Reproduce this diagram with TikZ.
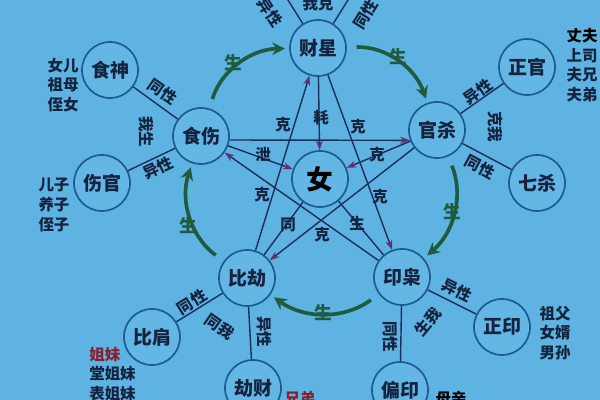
\documentclass[tikz,border=0pt]{standalone}
\usepackage{fontspec}
\newfontfamily\cjk{Noto Sans CJK SC}
\usetikzlibrary{arrows.meta}
\definecolor{bgblue}{HTML}{5EB3E2}
\definecolor{fillblue}{HTML}{64B7E4}
\definecolor{ringblue}{HTML}{1C5A92}
\definecolor{inkblue}{HTML}{15233F}
\definecolor{lineblue}{HTML}{1E2E5C}
\definecolor{tippurple}{HTML}{6A2E6E}
\definecolor{shenggreen}{HTML}{1F5B3E}
\definecolor{kinred}{HTML}{8B1E2E}
\begin{document}
\begin{tikzpicture}[x=0.025cm, y=0.025cm,
		ring/.style={circle, draw=ringblue, line width=1.2pt, fill=fillblue, minimum size=1.4cm, inner sep=0pt, text=inkblue, font={\cjk\bfseries\fontsize{13.5}{15}\selectfont}},
		branch/.style={draw=lineblue, line width=1pt},
		kearrow/.style={draw=lineblue, line width=1pt, -{Stealth[length=7pt, width=5pt, color=tippurple]}},
		shengarrow/.style={draw=shenggreen, line width=2.6pt, shorten <=7pt, shorten >=3pt, -{Stealth[length=9pt, width=9pt]}},
		rel/.style={text=inkblue, font={\cjk\bfseries\fontsize{11}{12}\selectfont}, inner sep=0pt},
		sheng/.style={text=shenggreen, font={\cjk\bfseries\fontsize{12.5}{13}\selectfont}, inner sep=0pt},
		kin/.style={text=inkblue, align=center, inner sep=0pt, font={\cjk\bfseries\fontsize{11}{14}\selectfont}}]
	\useasboundingbox	(0, 0) rectangle (600, 400);
	\fill[bgblue]	(0, 0) rectangle (600, 400);
	\clip	(0, 0) rectangle (600, 400);

	\node[ring] (caixing)	at (318, 352) {财星};
	\node[ring] (guansha)	at (437, 270) {官杀};
	\node[ring] (yinxiao)	at (402, 123) {印枭};
	\node[ring] (bijie)	at (247, 122) {比劫};
	\node[ring] (shishang)	at (201, 264) {食伤};
	\node[ring, text=black, font={\cjk\bfseries\fontsize{19}{20}\selectfont}] (nv)	at (320, 221) {女};

	\node[ring] (shishen)	at (110, 330) {食神};
	\node[ring] (shangguan)	at (102, 217) {伤官};
	\node[ring] (zhengguan)	at (527, 333) {正官};
	\node[ring] (qisha)	at (537, 217) {七杀};
	\node[ring] (zhengyin)	at (502, 73) {正印};
	\node[ring] (pianyin)	at (400, 10) {偏印};
	\node[ring] (jiecai)	at (253, 12) {劫财};
	\node[ring] (bijian)	at (152, 63) {比肩};

	\coordinate (caitopl)	at (283, 408);
	\coordinate (caitopr)	at (353, 408);

	\draw[branch]	(caixing) -- (caitopl);
	\draw[branch]	(caixing) -- (caitopr);
	\draw[branch]	(shishang) -- (shishen);
	\draw[branch]	(shishang) -- (shangguan);
	\draw[branch]	(guansha) -- (zhengguan);
	\draw[branch]	(guansha) -- (qisha);
	\draw[branch]	(yinxiao) -- (zhengyin);
	\draw[branch]	(yinxiao) -- (pianyin);
	\draw[branch]	(bijie) -- (bijian);
	\draw[branch]	(bijie) -- (jiecai);

	\draw[kearrow]	(shishang.-8) -- (guansha.201);
	\draw[kearrow]	(bijie) -- (caixing);
	\draw[kearrow]	(caixing) -- (yinxiao);
	\draw[kearrow]	(guansha) -- (bijie);
	\draw[kearrow]	(yinxiao) -- (shishang);
	\draw[kearrow]	(caixing) -- (nv);
	\draw[kearrow]	(shishang) -- (nv);
	\draw[kearrow]	(guansha) -- (nv);
	\draw[branch]	(bijie) -- (nv);
	\draw[branch]	(yinxiao) -- (nv);

	\draw[shengarrow]	(shishang) to[bend left=36] (caixing);
	\draw[shengarrow]	(caixing) to[bend left=36] (guansha);
	\draw[shengarrow]	(guansha) to[bend left=36] (yinxiao);
	\draw[shengarrow]	(yinxiao) to[bend left=36] (bijie);
	\draw[shengarrow]	(bijie) to[bend left=36] (shishang);

	\node[sheng] (sheng1)	at (233, 337) {生};
	\node[sheng] (sheng2)	at (398, 343) {生};
	\node[sheng] (sheng3)	at (452, 188) {生};
	\node[sheng] (sheng4)	at (323, 87) {生};
	\node[sheng] (sheng5)	at (188, 174) {生};

	\node[rel] (ke1)	at (283, 275) {克};
	\node[rel] (ke2)	at (358, 273) {克};
	\node[rel] (ke3)	at (377, 245) {克};
	\node[rel] (ke4)	at (262, 205) {克};
	\node[rel] (ke5)	at (380, 203) {克};
	\node[rel] (ke6)	at (322, 165) {克};
	\node[rel] (hao)	at (321, 282) {耗};
	\node[rel] (xie)	at (263, 245) {泄};
	\node[rel] (tong)	at (288, 175) {同};
	\node[rel] (shengnv)	at (357, 177) {生};

	\node[rel, rotate=-57] (caiyi)	at (270, 388) {异性};
	\node[rel] (caiwoke)	at (318, 396) {我克};
	\node[rel, rotate=58] (caitong)	at (366, 386) {同性};
	\node[rel, rotate=-35] (shishentong)	at (163, 308) {同性};
	\node[rel, rotate=25] (shangguanyi)	at (158, 232) {异性};
	\node[rel, rotate=-90] (woshang)	at (146, 268) {我生};
	\node[rel, rotate=35] (zhengguanyi)	at (478, 308) {异性};
	\node[rel, rotate=-28] (qishatong)	at (480, 233) {同性};
	\node[rel, rotate=-90] (kewo)	at (495, 273) {克我};
	\node[rel, rotate=-27] (zhengyinyi)	at (457, 110) {异性};
	\node[rel, rotate=-90] (pianyintong)	at (390, 63) {同性};
	\node[rel, rotate=50] (shengwo)	at (428, 78) {生我};
	\node[rel, rotate=32] (bijiantong)	at (192, 98) {同性};
	\node[rel, rotate=-90] (jiecaiyi)	at (264, 68) {异性};
	\node[rel, rotate=-35] (tongwo)	at (220, 73) {同我};

	\node[kin] (shishenkin)	at (63, 315) {女儿\\祖母\\侄女};
	\node[kin] (shangguankin)	at (54, 195) {儿子\\养子\\侄子};
	\node[kin] (zhengguankin)	at (582, 335) {\textcolor{black}{丈夫}\\上司\\夫兄\\夫弟};
	\node[kin] (zhengyinkin)	at (555, 67) {祖父\\女婿\\男孙};
	\node[kin, align=left, anchor=west] (bijiankin)	at (89, 26) {\textcolor{kinred}{姐妹}\\堂姐妹\\表姐妹};
	\node[kin, text=kinred] (jiecaikin)	at (300, 1) {兄弟};
	\node[kin, text=black] (pianyinkin)	at (451, 1) {母亲};
\end{tikzpicture}
\end{document}
